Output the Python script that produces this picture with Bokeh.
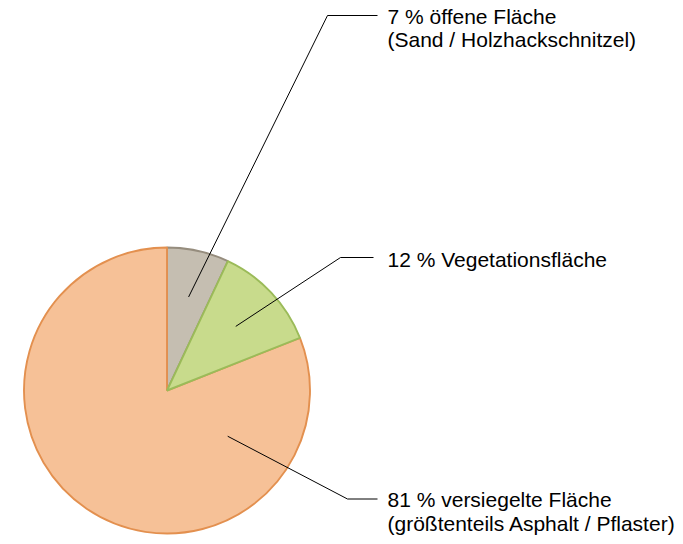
import math
from bokeh.plotting import figure
from bokeh.models import Range1d
from bokeh.core.properties import value
from bokeh.embed import file_html
from bokeh.resources import INLINE

# ---- data ----
categories = ["öffene Fläche", "Vegetationsfläche", "versiegelte Fläche"]
shares = [7, 12, 81]
label_line1 = ["7 % öffene Fläche", "12 % Vegetationsfläche", "81 % versiegelte Fläche"]
label_line2 = ["(Sand / Holzhackschnitzel)", "", "(größtenteils Asphalt / Pflaster)"]

# ---- style ----
fills = ["#C5BEB1", "#C8DB8C", "#F6C197"]
edges = ["#968D7E", "#9BBB59", "#E3904F"]
draw_order = [0, 2, 1]

W, H = 675, 540
PAGE_H = 544
p = figure(width=W, height=H, output_backend="svg", toolbar_location=None,
           x_range=Range1d(0, W), y_range=Range1d(PAGE_H - H, PAGE_H),
           min_border=0, outline_line_color=None)
p.axis.visible = False
p.grid.visible = False
p.background_fill_color = "white"
p.border_fill_color = "white"

def Y(y):  # picture y -> data y
    return PAGE_H - y

cx, cy, R = 166.5, Y(390), 143

total = float(sum(shares))
starts, ends = [], []
a = math.pi / 2
for s in shares:
    starts.append(a)
    a -= s / total * 2 * math.pi
    ends.append(a)

for i in draw_order:
    p.wedge(x=[cx], y=[cy], radius=R, start_angle=[ends[i]], end_angle=[starts[i]],
            fill_color=fills[i], line_color=edges[i], line_width=1.9)

# leader lines
anchor_deg = [77, 43, -37]
anchor_r = [96, 94, 76]
elbow = [(327, 15), (340, 257), (347, 498.5)]
line_end_x = [377, 373, 377]
xs, ys = [], []
for i in range(3):
    ax = cx + anchor_r[i] * math.cos(math.radians(anchor_deg[i]))
    ay = cy + anchor_r[i] * math.sin(math.radians(anchor_deg[i]))
    ex, ey = elbow[i]
    xs.append([ax, ex, line_end_x[i]])
    ys.append([ay, Y(ey), Y(ey)])
p.multi_line(xs=xs, ys=ys, line_color="black", line_width=1)

# labels
text_x = 387
base1 = [15.5, 258.5, 498.5]
base2 = [38.5, None, 522.5]
for i in range(3):
    p.text(x=[text_x], y=[Y(base1[i])], text=[label_line1[i]], text_font=value("Liberation Sans"),
           text_font_size="21px", text_baseline="alphabetic", text_align="left", text_color="black")
    if label_line2[i]:
        p.text(x=[text_x], y=[Y(base2[i])], text=[label_line2[i]], text_font=value("Liberation Sans"),
               text_font_size="21px", text_baseline="alphabetic", text_align="left", text_color="black")

open("out.html", "w").write(file_html(p, INLINE))
